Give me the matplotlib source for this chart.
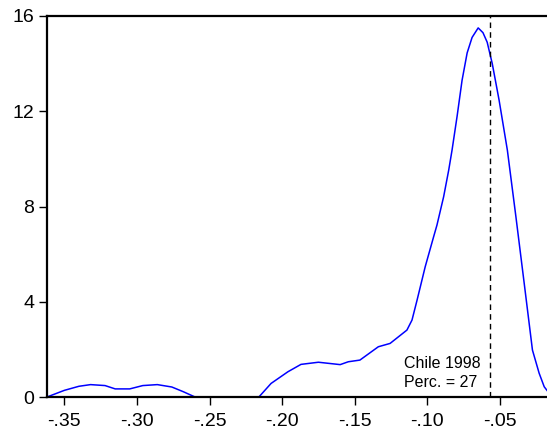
import matplotlib
matplotlib.use("Agg")
import matplotlib.pyplot as plt

# density curve
x = [-0.362, -0.350, -0.340, -0.332, -0.322, -0.315, -0.305, -0.296, -0.286,
     -0.276, -0.268, -0.260, -0.240, -0.216, -0.2076, -0.196, -0.187, -0.175,
     -0.160, -0.1544, -0.1464, -0.1337, -0.1256, -0.1198, -0.114, -0.1105,
     -0.107, -0.1014, -0.0956, -0.0933, -0.0887, -0.0852, -0.0829, -0.0794,
     -0.0760, -0.0725, -0.0691, -0.0649, -0.0616, -0.0587, -0.0552, -0.0505,
     -0.0448, -0.0389, -0.0332, -0.0275, -0.0229, -0.0194, -0.0160]
y = [0.0, 0.28, 0.45, 0.52, 0.48, 0.34, 0.34, 0.48, 0.52,
     0.42, 0.22, 0.0, 0.0, 0.0, 0.57, 1.06, 1.37, 1.46,
     1.36, 1.48, 1.55, 2.11, 2.25, 2.53, 2.81, 3.23,
     4.07, 5.47, 6.73, 7.22, 8.41, 9.53, 10.37, 11.8,
     13.3, 14.45, 15.1, 15.5, 15.3, 14.9, 14.0, 12.47,
     10.37, 7.57, 4.78, 1.97, 1.0, 0.43, 0.16]

chile_x = -0.0567
xticks = [-0.35, -0.30, -0.25, -0.20, -0.15, -0.10, -0.05]
xlabels = ['-.35', '-.30', '-.25', '-.20', '-.15', '-.10', '-.05']
yticks = [0, 4, 8, 12, 16]

plt.rcParams['font.family'] = ['Liberation Sans', 'DejaVu Sans']

fig = plt.figure(figsize=(5.47, 4.38), dpi=100)
ax = fig.add_axes([47 / 547, 41 / 438, 502 / 547, 381 / 438])

ax.plot(x, y, color='#0000ff', lw=1.1)
ax.axvline(chile_x, color='black', lw=1, ls=(0, (4, 3)))

ax.text(-0.1163, 1.23, 'Chile 1998', fontsize=11.5)
ax.text(-0.1163, 0.41, 'Perc. = 27', fontsize=11.5)

ax.set_xlim(-0.362, -0.0161)
ax.set_ylim(0, 16)
ax.set_xticks(xticks)
ax.set_xticklabels(xlabels)
ax.set_yticks(yticks)
ax.tick_params(direction='out', length=6, width=1, labelsize=14, pad=3)
ax.tick_params(axis='x', pad=5.5)
for s in ax.spines.values():
    s.set_linewidth(1.6)
ax.spines['right'].set_visible(False)

fig.savefig('out.png', dpi=100)
